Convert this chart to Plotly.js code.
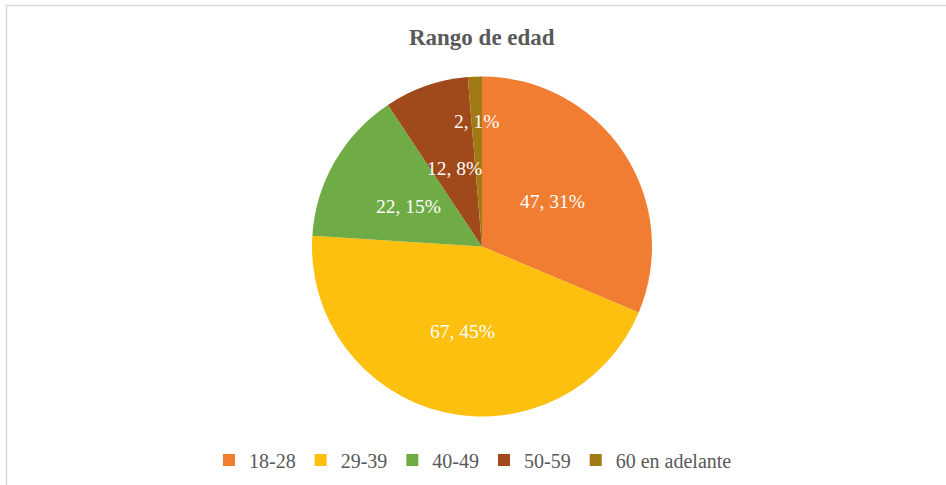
<!DOCTYPE html>
<html>
<head>
<meta charset="utf-8">
<script src="https://cdn.plot.ly/plotly-3.0.1.min.js"></script>
<style>html,body{margin:0;padding:0;background:#fff;}#chart{width:946px;height:485px;}</style>
</head>
<body>
<div id="chart"></div>
<script>
// Data
const categories = ["18-28", "29-39", "40-49", "50-59", "60 en adelante"];
const counts = [47, 67, 22, 12, 2];
const percents = [31, 45, 15, 8, 1];

// Styles
const colors = ["#F07D31", "#FDC00F", "#6FAC46", "#A0491B", "#A07A14"];
const labelRadius = [0.5, 0.5, 0.5, 0.5, 0.75];

const W = 946, H = 485;
const cx = 482, cy = 246.5, R = 170;

const total = counts.reduce((a, b) => a + b, 0);
const annotations = [];
let cum = 0;
counts.forEach((v, i) => {
  const mid = (cum + v / 2) / total * 2 * Math.PI;
  cum += v;
  const r = R * labelRadius[i];
  const px = cx + r * Math.sin(mid);
  const py = cy - r * Math.cos(mid) + 2;
  annotations.push({
    x: px / W, y: 1 - py / H, xref: "paper", yref: "paper",
    text: counts[i] + ", " + percents[i] + "%",
    showarrow: false,
    font: {family: "Liberation Serif, Times New Roman, serif", size: 19.5, color: "#FFFFFF"},
    xanchor: "center", yanchor: "middle"
  });
});

const trace = {
  type: "pie",
  labels: categories,
  values: counts,
  sort: false,
  direction: "clockwise",
  rotation: 0,
  textinfo: "none",
  hoverinfo: "label+value+percent",
  marker: {colors: colors, line: {width: 0}},
  domain: {x: [(cx - R) / W, (cx + R) / W], y: [1 - (cy + R) / H, 1 - (cy - R) / H]}
};

const layout = {
  width: W, height: H,
  margin: {l: 0, r: 0, t: 0, b: 0},
  paper_bgcolor: "#FFFFFF",
  title: {
    text: "<b>Rango de edad</b>",
    x: 0.5093, xanchor: "center", y: 1 - 37 / H, yanchor: "middle",
    font: {family: "Liberation Serif, Times New Roman, serif", size: 23, color: "#595959"}
  },
  showlegend: true,
  legend: {
    orientation: "h", x: 0.5, xanchor: "center", y: 1 - 460 / H, yanchor: "middle",
    font: {family: "Liberation Serif, Times New Roman, serif", size: 20, color: "#595959"},
    tracegroupgap: 0
  },
  annotations: annotations,
  shapes: [
    {type: "line", xref: "paper", yref: "paper", x0: 6.5 / W, x1: 1.01, y0: 1 - 5.5 / H, y1: 1 - 5.5 / H, line: {color: "#D9D9D9", width: 1.5}},
    {type: "line", xref: "paper", yref: "paper", x0: 6.5 / W, x1: 6.5 / W, y0: 1 - 5.5 / H, y1: -0.01, line: {color: "#D9D9D9", width: 1.5}}
  ]
};

Plotly.newPlot("chart", [trace], layout, {displayModeBar: false, staticPlot: true});
</script>
</body>
</html>
